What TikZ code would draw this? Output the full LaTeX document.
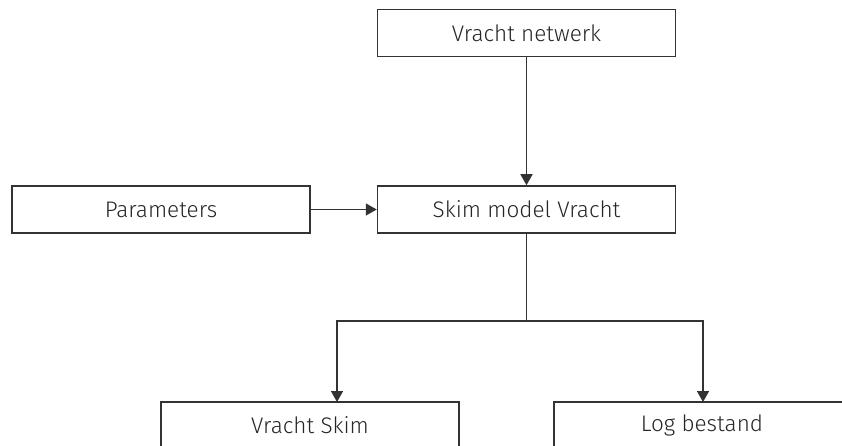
\documentclass[tikz,border=0pt]{standalone}
\usepackage{fontspec}
\setmainfont{Fira Sans Light}
\usetikzlibrary{arrows.meta}
\begin{document}
\begin{tikzpicture}[x=1pt,y=-1pt,
  block/.style={draw=black!80, line width=1.5pt, fill=white, minimum width=298pt,
    minimum height=47pt, inner sep=0pt, font=\fontsize{22.5}{26}\selectfont, text=black!85},
  flow/.style={draw=black!80, line width=1.5pt, -{Triangle[length=11pt,width=12pt]}},
  wire/.style={draw=black!80, line width=1.5pt}]
  \clip (0,0) rectangle (842,446);
  \useasboundingbox (0,0) rectangle (842,446);
  \fill[white] (0,0) rectangle (842,446);

  % process blocks
  \node[block] (net)  at (526.5,33)    {Vracht netwerk};
  \node[block] (skim) at (526.5,209.5) {Skim model Vracht};
  \node[block] (par)  at (161,209.5)   {Parameters};
  \node[block] (vs)   at (310,425.5)   {Vracht Skim};
  \node[block, minimum width=296pt] (log) at (702,425.5) {Log bestand};

  % splitting point and entry points of the outputs
  \coordinate (split) at (526.5,321);
  \coordinate (vsin)  at (337,402);
  \coordinate (login) at (703,402);

  % inputs
  \draw[flow] (net.south) -- (skim.north);
  \draw[flow] (par.east) -- (skim.west);

  % outputs
  \draw[wire] (skim.south) -- (split);
  \draw[flow] (split) -| (vsin);
  \draw[flow] (split) -| (login);
\end{tikzpicture}
\end{document}
